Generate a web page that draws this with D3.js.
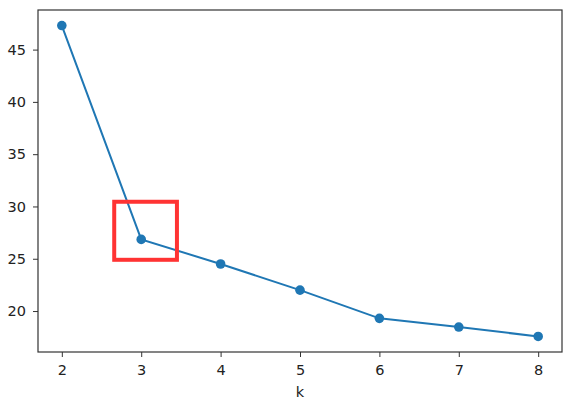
<!DOCTYPE html>
<html>
<head>
<meta charset="utf-8">
<script src="https://cdn.jsdelivr.net/npm/d3@7"></script>
<style>
  html, body { margin: 0; padding: 0; background: #fff; }
  svg { display: block; }
  text { font-family: "DejaVu Sans", sans-serif; fill: #222; }
</style>
</head>
<body>
<svg id="chart" width="581" height="407"></svg>
<script>
const kValues = [2, 3, 4, 5, 6, 7, 8];
const distortion = [47.3, 26.85, 24.5, 22.0, 19.3, 18.47, 17.57];
const xTicks = [2, 3, 4, 5, 6, 7, 8];
const yTicks = [20, 25, 30, 35, 40, 45];
const xLabel = "k";
// highlight box around the elbow (data coordinates)
const boxX = [2.66, 3.45];
const boxY = [24.9, 30.45];

const svg = d3.select("#chart");
const L = 38, R = 562, T = 10, B = 352;

const xMin = d3.min(kValues), xMax = d3.max(kValues);
const xPad = (xMax - xMin) * 0.05;
const yMin = d3.min(distortion), yMax = d3.max(distortion);
const yPad = (yMax - yMin) * 0.05;

const x = d3.scaleLinear().domain([xMin - xPad, xMax + xPad]).range([L, R]);
const y = d3.scaleLinear().domain([yMin - yPad, yMax + yPad]).range([B, T]);

const xAxis = d3.axisBottom(x).tickValues(xTicks).tickFormat(d3.format("d")).tickSizeOuter(0).tickSize(5).tickPadding(7.5);
const yAxis = d3.axisLeft(y).tickValues(yTicks).tickFormat(d3.format("d")).tickSizeOuter(0).tickSize(5).tickPadding(7);

const gx = svg.append("g").attr("transform", `translate(0,${B})`).call(xAxis);
const gy = svg.append("g").attr("transform", `translate(${L},0)`).call(yAxis);
[gx, gy].forEach(g => {
  g.select(".domain").remove();
  g.selectAll(".tick line").attr("stroke", "#333").attr("stroke-width", 1);
  g.selectAll(".tick text").style("font-size", "14.5px").style("font-family", "DejaVu Sans, sans-serif").attr("fill", "#222");
});

// frame
svg.append("rect").attr("x", L).attr("y", T).attr("width", R - L).attr("height", B - T)
  .attr("fill", "none").attr("stroke", "#333").attr("stroke-width", 1.2);

const line = d3.line().x((d, i) => x(kValues[i])).y(d => y(d));
svg.append("path").datum(distortion).attr("d", line)
  .attr("fill", "none").attr("stroke", "#1f77b4").attr("stroke-width", 2);

svg.selectAll("circle.pt").data(distortion).join("circle")
  .attr("class", "pt")
  .attr("cx", (d, i) => x(kValues[i])).attr("cy", d => y(d)).attr("r", 4.8)
  .attr("fill", "#1f77b4");

svg.append("rect")
  .attr("x", x(boxX[0])).attr("y", y(boxY[1]))
  .attr("width", x(boxX[1]) - x(boxX[0])).attr("height", y(boxY[0]) - y(boxY[1]))
  .attr("fill", "none").attr("stroke", "#ff3333").attr("stroke-width", 4);

svg.append("text").attr("x", (L + R) / 2).attr("y", 397).attr("text-anchor", "middle")
  .style("font-size", "14.5px").text(xLabel);
</script>
</body>
</html>
